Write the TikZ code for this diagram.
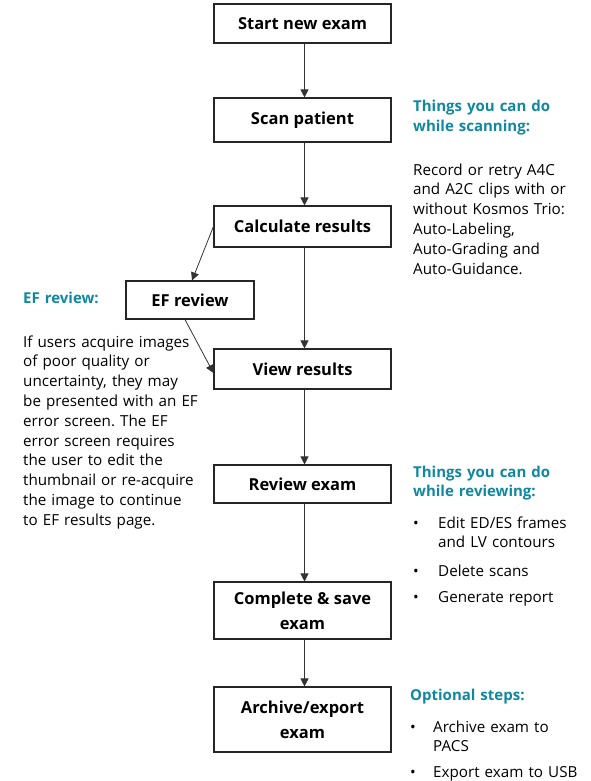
\documentclass[tikz,border=0pt]{standalone}
\usepackage{fontspec}
\setmainfont{Open Sans}
\usetikzlibrary{arrows.meta}
\definecolor{teal1}{RGB}{16,136,160}
\frenchspacing
\begin{document}
\begin{tikzpicture}[x=1pt,y=-1pt,
 box/.style={draw=black!85, line width=1.1pt, minimum width=177pt, inner sep=0pt, font=\fontsize{16.5}{25}\selectfont\bfseries, align=center},
 arr/.style={draw=black!80, -{Triangle[length=8pt,width=8pt]}, line width=0.8pt},
 head/.style={anchor=base west, inner sep=0pt, text width=180pt, align=left, font=\fontsize{15}{19.5}\selectfont\bfseries, text=teal1},
 body/.style={anchor=base west, inner sep=0pt, text width=190pt, align=left, font=\fontsize{15.2}{19.8}\selectfont},
 bul/.style={anchor=base west, inner sep=0pt, font=\fontsize{15}{20}\selectfont},
]
\useasboundingbox (0,0) rectangle (590,781);
% flow boxes
\node[box, minimum height=39pt] (start) at (302.5,23.5) {Start new exam};
\node[box, minimum height=44pt] (scan) at (302.5,120) {Scan patient};
\node[box, minimum height=41pt] (calc) at (302.5,226.5) {Calculate results};
\node[box, minimum height=38pt, minimum width=128pt] (ef) at (190,300) {EF review};
\node[box, minimum height=40pt] (view) at (302.5,369) {View results};
\node[box, minimum height=38pt] (review) at (302.5,484) {Review exam};
\node[box, minimum height=57pt] (complete) at (302.5,610.5) {Complete \& save\\exam};
\node[box, minimum height=65pt] (archive) at (302.5,719.5) {Archive/export\\exam};
% connectors
\draw[arr] ([xshift=2pt]start.south) -- ([xshift=2pt]scan.north);
\draw[arr] ([xshift=2pt]scan.south) -- ([xshift=2pt]calc.north);
\draw[arr] ([xshift=2pt]calc.south) -- ([xshift=2pt]view.north);
\draw[arr] ([xshift=2pt]view.south) -- ([xshift=2pt]review.north);
\draw[arr] ([xshift=2pt]review.south) -- ([xshift=2pt]complete.north);
\draw[arr] ([xshift=2pt]complete.south) -- ([xshift=2pt]archive.north);
\draw[arr] (calc.west) -- ([xshift=2pt]ef.north);
\draw[arr] ([xshift=-5pt]ef.south) -- ([yshift=-4pt]view.west);
% scanning notes
\node[head] (h1) at (413,112) {Things you can do\\while scanning:};
\node[body] (b1) at (413,175) {Record or retry A4C\\and A2C clips with or\\without Kosmos Trio:\\Auto-Labeling,\\Auto-Grading and\\Auto-Guidance.};
% EF notes
\node[head] (h2) at (23,303) {EF review:};
\node[body] (b2) at (23,347) {If users acquire images\\of poor quality or\\uncertainty, they may\\be presented with an EF\\error screen. The EF\\error screen requires\\the user to edit the\\thumbnail or re-acquire\\the image to continue\\to EF results page.};
% reviewing notes
\node[head] (h3) at (413,477) {Things you can do\\while reviewing:};
\node[bul] (d1) at (413,528) {•};
\node[body] (t1) at (438,528) {Edit ED/ES frames\\and LV contours};
\node[bul] (d2) at (413,576) {•};
\node[body] (t2) at (438,576) {Delete scans};
\node[bul] (d3) at (413,602) {•};
\node[body] (t3) at (438,602) {Generate report};
% optional
\node[head] (h4) at (410,700) {Optional steps:};
\node[bul] (d4) at (410,732) {•};
\node[body] (t4) at (433,732) {Archive exam to\\PACS};
\node[bul] (d5) at (410,777) {•};
\node[body] (t5) at (433,777) {Export exam to USB};
\end{tikzpicture}
\end{document}
